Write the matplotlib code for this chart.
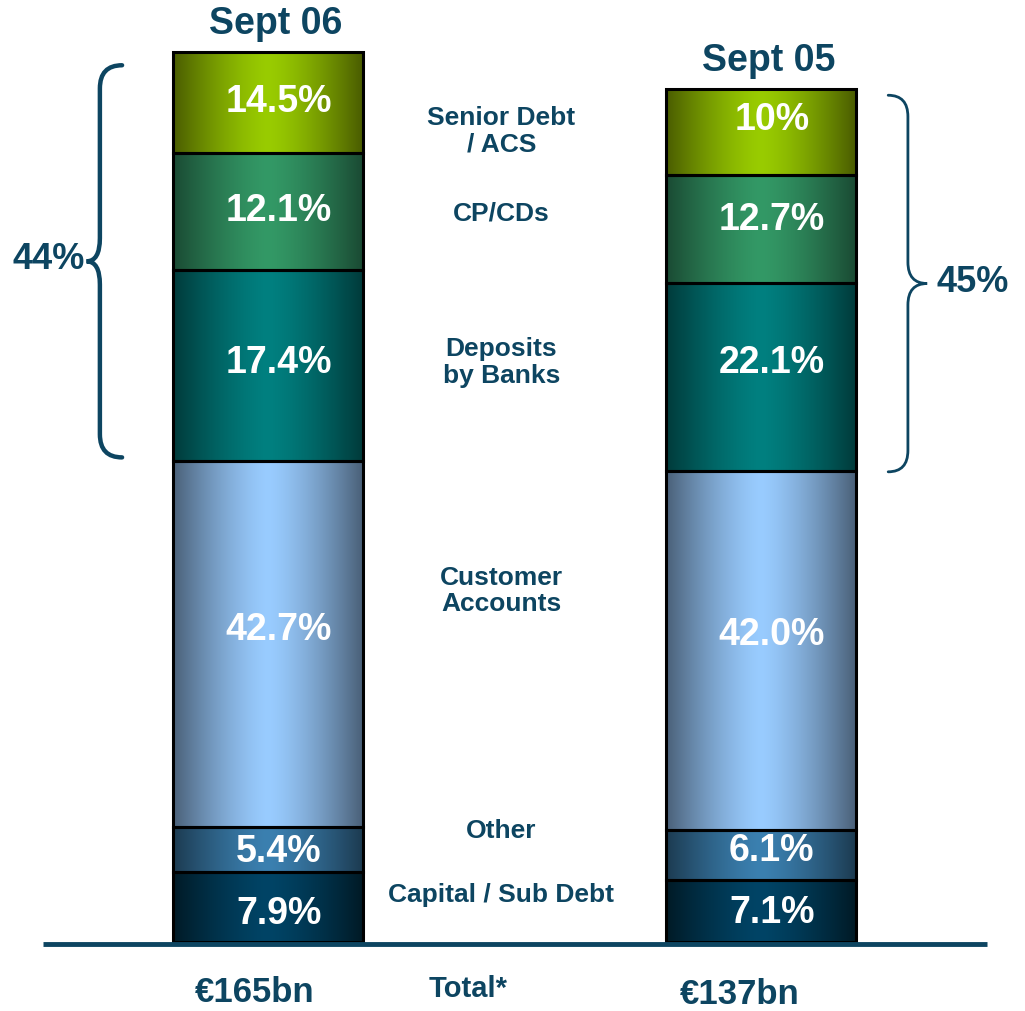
import numpy as np
import matplotlib
matplotlib.use("Agg")
from matplotlib import pyplot as plt
from matplotlib.path import Path
from matplotlib.patches import PathPatch
from matplotlib.colors import to_rgb

plt.rcParams['font.family'] = ['Liberation Sans', 'DejaVu Sans']

# data (bottom to top)
segments = ["Capital / Sub Debt", "Other", "Customer\nAccounts", "Deposits\nby Banks", "CP/CDs", "Senior Debt\n/ ACS"]
labels_06 = ["7.9%", "5.4%", "42.7%", "17.4%", "12.1%", "14.5%"]
labels_05 = ["7.1%", "6.1%", "42.0%", "22.1%", "12.7%", "10%"]
# segment heights as drawn in the picture (left bar total = 100)
drawn_06 = [7.87, 5.06, 41.12, 21.46, 13.15, 11.35]
drawn_05 = [6.97, 5.62, 40.34, 21.12, 12.13, 9.66]
periods = ["Sept 06", "Sept 05"]
totals = ["€165bn", "€137bn"]
wholesale = ["44%", "45%"]

TXT = '#0d4561'
centre_cols = ['#004466', '#3b80b0', '#99ccff', '#008080', '#339966', '#99cc00']
edge_cols = ['#001a26', '#1c3a50', '#4a6078', '#003a3a', '#1a4a33', '#4a5c00']
# small vertical nudges of the % labels (in y units)
nudge = [[-0.8, -0.3, 1.6, 0.3, 0.0, 0.0],
         [-0.2, 0.4, 1.7, 1.6, 1.0, 1.4]]


def gradient(c_mid, c_edge, n=200):
    x = np.linspace(0, 1, n)
    t = np.clip(np.abs(x - 0.5) / 0.5, 0, 1) ** 1.4
    a, b = np.array(to_rgb(c_mid)), np.array(to_rgb(c_edge))
    return (a[None, :] * (1 - t[:, None]) + b[None, :] * t[:, None])[None, :, :]


def brace(ax, x_tip, x_spine, x_point, y0, y1, r, lw):
    ym = (y0 + y1) / 2
    verts = [(x_tip, y1), (x_spine, y1), (x_spine, y1 - r),
             (x_spine, ym + r), (x_spine, ym), (x_point, ym),
             (x_spine, ym), (x_spine, ym - r),
             (x_spine, y0 + r), (x_spine, y0), (x_tip, y0)]
    codes = [Path.MOVETO, Path.CURVE3, Path.CURVE3,
             Path.LINETO, Path.CURVE3, Path.CURVE3,
             Path.CURVE3, Path.CURVE3,
             Path.LINETO, Path.CURVE3, Path.CURVE3]
    ax.add_patch(PathPatch(Path(verts, codes), fill=False, edgecolor=TXT, lw=lw, capstyle='round'))


fig = plt.figure(figsize=(10.25, 10.11), dpi=100)
ax = fig.add_axes([0, 0, 1, 1])
ax.axis('off')

width = 0.385
xs = [0, 1]
for xi, heights, labs in zip(xs, [drawn_06, drawn_05], [labels_06, labels_05]):
    bottoms = np.concatenate([[0], np.cumsum(heights)[:-1]])
    for k, (h, b0, lab) in enumerate(zip(heights, bottoms, labs)):
        ax.imshow(gradient(centre_cols[k], edge_cols[k]), extent=(xi - width / 2, xi + width / 2, b0, b0 + h),
                  aspect='auto', interpolation='bilinear', zorder=1)
        ax.bar(xi, h, width, bottom=b0, facecolor='none', edgecolor='black', lw=2.2, zorder=2)
        ax.text(xi + 0.022, b0 + h / 2 + nudge[xi][k], lab, color='white', fontsize=27, fontweight='bold',
                ha='center', va='center', zorder=3)
    top = sum(heights)
    ax.text(xi + 0.015, top + 1.1, periods[xi], color=TXT, fontsize=27, fontweight='bold',
            ha='center', va='bottom')

# segment names between bars
name_y = [5.3, 12.5, 39.4, 65.1, 81.9, 91.1]
for name, y in zip(segments, name_y):
    ax.text(0.473, y, name, color=TXT, fontsize=19, fontweight='bold', ha='center', va='center',
            linespacing=1.12)

# braces over the wholesale segments (top three)
top06 = np.cumsum(drawn_06)
top05 = np.cumsum(drawn_05)
brace(ax, -0.296, -0.341, -0.368, top06[2] + 0.4, top06[5] - 1.5, 2.6, 3.2)
ax.text(-0.445, (top06[2] + top06[5]) / 2 - 0.3, wholesale[0], color=TXT, fontsize=26,
        fontweight='bold', ha='center', va='center')
brace(ax, 1.258, 1.298, 1.337, top05[2] - 0.1, top05[5] - 0.7, 2.4, 2)
ax.text(1.43, (top05[2] + top05[5]) / 2 - 0.3, wholesale[1], color=TXT, fontsize=26,
        fontweight='bold', ha='center', va='center')

# baseline
ax.plot([-0.456, 1.458], [-0.2, -0.2], color=TXT, lw=3.5, solid_capstyle='butt', zorder=4)

# totals
ax.text(-0.028, -5.7, totals[0], color=TXT, fontsize=25, fontweight='bold', ha='center', va='center')
ax.text(0.406, -5.3, "Total*", color=TXT, fontsize=21, fontweight='bold', ha='center', va='center')
ax.text(-0.043 + 1, -5.95, totals[1], color=TXT, fontsize=25, fontweight='bold', ha='center', va='center')

ax.set_xlim(-268 / 493, (1025 - 268) / 493)
ax.set_ylim(-69 / 8.9, 942 / 8.9)

fig.savefig("out.png", dpi=100)
